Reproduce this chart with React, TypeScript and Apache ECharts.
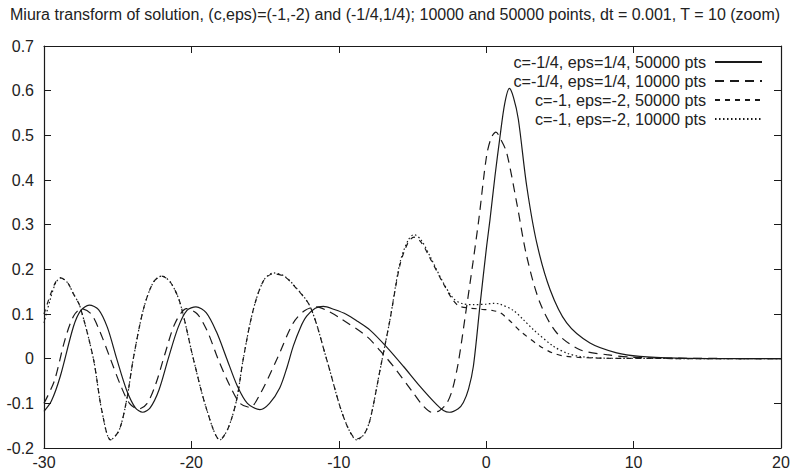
import React, { useEffect, useRef } from "react";
import * as echarts from "echarts";

const FONT = '"Liberation Sans", Arial, Helvetica, sans-serif';

const titleText =
  "Miura transform of solution, (c,eps)=(-1,-2) and (-1/4,1/4); 10000 and 50000 points, dt = 0.001, T = 10 (zoom)";

const seriesNames = [
  "c=-1/4, eps=1/4, 50000 pts",
  "c=-1/4, eps=1/4, 10000 pts",
  "c=-1, eps=-2, 50000 pts",
  "c=-1, eps=-2, 10000 pts",
];

const xTicks = [-30, -20, -10, 0, 10, 20];
const yTicks = [-0.2, -0.1, 0, 0.1, 0.2, 0.3, 0.4, 0.5, 0.6, 0.7];

// c=-1/4, eps=1/4, 50000 pts (solid)
const solid50000: [number, number][] = [
  [-30, -0.118], [-29.5, -0.095], [-28.9, -0.04], [-28.0, 0.072], [-27.5, 0.108],
  [-26.93, 0.12], [-26.3, 0.11], [-25.7, 0.07], [-25.07, 0.0], [-24.4, -0.07],
  [-23.8, -0.11], [-23.3, -0.12], [-22.8, -0.11], [-22.2, -0.07], [-21.57, 0.0],
  [-20.9, 0.07], [-20.3, 0.108], [-19.69, 0.116], [-19.0, 0.103], [-18.3, 0.06],
  [-17.6, 0.0], [-16.9, -0.06], [-16.2, -0.1], [-15.35, -0.114], [-14.7, -0.1],
  [-14.0, -0.065], [-13.5, -0.018], [-13.09, 0.028], [-12.6, 0.07], [-12.18, 0.095],
  [-11.6, 0.113], [-11.05, 0.117], [-10.3, 0.11], [-9.47, 0.099], [-8.7, 0.083],
  [-7.88, 0.064], [-6.75, 0.026], [-5.62, -0.017], [-4.49, -0.062], [-3.36, -0.103],
  [-2.9, -0.116], [-2.5, -0.12], [-1.9, -0.112], [-1.55, -0.098], [-1.2, -0.068],
  [-0.87, -0.017], [-0.42, 0.12], [0.03, 0.252], [0.26, 0.312], [0.6, 0.41],
  [0.94, 0.498], [1.25, 0.57], [1.57, 0.605], [1.85, 0.585], [2.18, 0.536],
  [2.75, 0.386], [3.43, 0.259], [4.33, 0.155], [5.46, 0.08], [7.04, 0.035],
  [8.85, 0.013], [10.43, 0.005], [13, 0.001], [16, 0], [20, 0],
];

// c=-1/4, eps=1/4, 10000 pts (long dash)
const dash10000: [number, number][] = [
  [-30, -0.1], [-29.3, -0.05], [-28.6, 0.04], [-28.0, 0.095], [-27.45, 0.112],
  [-26.8, 0.1], [-26.2, 0.06], [-25.5, 0.0], [-24.8, -0.06], [-24.2, -0.1],
  [-23.6, -0.113], [-23.0, -0.1], [-22.4, -0.055], [-21.8, 0.01], [-21.1, 0.08],
  [-20.32, 0.112], [-19.6, 0.1], [-18.9, 0.06], [-18.2, 0.0], [-17.4, -0.06],
  [-16.7, -0.1], [-16.02, -0.109], [-15.35, -0.08], [-14.21, -0.002], [-13.09, 0.08],
  [-12.3, 0.108], [-11.5, 0.116], [-10.7, 0.106], [-9.92, 0.091], [-8.11, 0.05],
  [-7.2, 0.018], [-6.3, -0.017], [-4.94, -0.077], [-4.3, -0.105], [-3.7, -0.12],
  [-3.2, -0.117], [-2.68, -0.1], [-2.3, -0.07], [-1.9, -0.01], [-1.4, 0.1],
  [-0.9, 0.215], [-0.5, 0.312], [0.03, 0.455], [0.35, 0.495], [0.66, 0.507],
  [1.0, 0.49], [1.39, 0.461], [2.07, 0.349], [2.75, 0.229], [3.65, 0.125],
  [4.78, 0.058], [6.36, 0.02], [8.17, 0.009], [10, 0.003], [13, 0.001], [20, 0],
];

// c=-1, eps=-2, 50000 pts (short dash)
const shortDash50000: [number, number][] = [
  [-30, 0.1], [-29.6, 0.14], [-29.2, 0.172], [-28.87, 0.181], [-28.4, 0.17],
  [-28.0, 0.145], [-27.56, 0.117], [-26.65, 0.0], [-26.09, -0.114], [-25.48, -0.182],
  [-24.9, -0.16], [-24.39, -0.092], [-23.94, 0.0], [-23.26, 0.11], [-22.6, 0.17],
  [-22.02, 0.185], [-21.4, 0.17], [-20.77, 0.125], [-19.87, 0.0], [-18.96, -0.114],
  [-18.06, -0.182], [-17.5, -0.155], [-16.93, -0.092], [-16.48, 0.0], [-15.8, 0.11],
  [-15.1, 0.175], [-14.44, 0.19], [-13.7, 0.184], [-13.09, 0.165], [-11.95, 0.117],
  [-10.82, -0.002], [-9.92, -0.107], [-9.3, -0.16], [-8.79, -0.18], [-8.3, -0.17],
  [-7.88, -0.137], [-7.2, -0.025], [-6.53, 0.087], [-5.85, 0.21], [-5.3, 0.26],
  [-4.9, 0.272], [-4.4, 0.26], [-3.81, 0.225], [-2.91, 0.168], [-2.23, 0.13],
  [-1.78, 0.117], [-0.42, 0.111], [0.4, 0.108], [0.94, 0.103], [1.6, 0.085],
  [2.3, 0.062], [3.65, 0.028], [4.5, 0.013], [5.46, 0.005], [8, 0.001], [20, 0],
];

// c=-1, eps=-2, 10000 pts (dotted)
const dot10000: [number, number][] = [
  [-30, 0.08], [-29.6, 0.13], [-29.2, 0.17], [-28.87, 0.181], [-28.4, 0.17],
  [-28.0, 0.145], [-27.56, 0.117], [-26.65, 0.0], [-26.09, -0.114], [-25.48, -0.182],
  [-24.9, -0.16], [-24.39, -0.092], [-23.94, 0.0], [-23.26, 0.11], [-22.6, 0.17],
  [-22.02, 0.185], [-21.4, 0.17], [-20.77, 0.125], [-19.87, 0.0], [-18.96, -0.114],
  [-18.06, -0.182], [-17.5, -0.155], [-16.93, -0.092], [-16.48, 0.0], [-15.8, 0.11],
  [-15.1, 0.175], [-14.44, 0.192], [-13.7, 0.185], [-13.09, 0.166], [-11.95, 0.117],
  [-10.82, -0.002], [-9.92, -0.107], [-9.3, -0.16], [-8.79, -0.182], [-8.3, -0.17],
  [-7.88, -0.137], [-7.2, -0.025], [-6.53, 0.087], [-5.85, 0.215], [-5.3, 0.265],
  [-4.9, 0.278], [-4.4, 0.265], [-3.81, 0.229], [-2.91, 0.17], [-2.23, 0.135],
  [-1.6, 0.123], [-0.87, 0.121], [0.0, 0.122], [0.48, 0.124], [0.94, 0.122],
  [1.84, 0.108], [2.5, 0.088], [3.2, 0.065], [4.55, 0.028], [5.5, 0.012],
  [6.36, 0.005], [8, 0.001], [20, 0],
];

const seriesData = [solid50000, dash10000, shortDash50000, dot10000];
const dashes: (string | number[])[] = ["solid", [9, 6], [5, 5], [1.5, 2.5]];

export default function App() {
  const ref = useRef<HTMLDivElement>(null);
  useEffect(() => {
    if (!ref.current) return;
    const chart = echarts.init(ref.current, null, { renderer: "svg" });
    const ink = "#1a1a1a";
    const axisBase = {
      type: "value" as const,
      axisLine: { show: true, onZero: false, lineStyle: { color: ink, width: 1.2 } },
      axisTick: { show: true, inside: true, length: 7, lineStyle: { color: ink, width: 1 } },
      splitLine: { show: false },
    };
    chart.setOption({
      animation: false,
      backgroundColor: "#ffffff",
      title: {
        text: titleText,
        left: 10,
        top: 6,
        padding: 0,
        textStyle: { fontFamily: FONT, fontSize: 16, fontWeight: "normal", color: "#222" },
      },
      legend: seriesNames.map((n, i) => ({
        data: [n],
        right: 37,
        top: 54 + i * 19,
        orient: "vertical",
        align: "right",
        itemWidth: 47,
        itemHeight: 10,
        padding: 0,
        selectedMode: false,
        itemStyle: { color: "rgba(0,0,0,0)", borderColor: "rgba(0,0,0,0)", borderWidth: 0 },
        textStyle: { fontFamily: FONT, fontSize: 16.2, color: "#222", padding: [0, 4, 0, 0] },
      })),
      grid: { left: 44, right: 19, top: 46, bottom: 25, containLabel: false },
      xAxis: [
        {
          ...axisBase,
          min: xTicks[0],
          max: xTicks[xTicks.length - 1],
          interval: 10,
          position: "bottom",
          axisLabel: { fontFamily: FONT, fontSize: 16, color: "#222", margin: 6 },
        },
        {
          ...axisBase,
          min: xTicks[0],
          max: xTicks[xTicks.length - 1],
          interval: 10,
          position: "top",
          axisLabel: { show: false },
        },
      ],
      yAxis: [
        {
          ...axisBase,
          min: yTicks[0],
          max: yTicks[yTicks.length - 1],
          interval: 0.1,
          position: "left",
          axisLabel: {
            fontFamily: FONT,
            fontSize: 16,
            color: "#222",
            margin: 10,
            formatter: (v: number) => String(Math.round(v * 10) / 10),
          },
        },
        {
          ...axisBase,
          min: yTicks[0],
          max: yTicks[yTicks.length - 1],
          interval: 0.1,
          position: "right",
          axisLabel: { show: false },
        },
      ],
      series: seriesNames.map((n, i) => ({
        name: n,
        type: "line",
        xAxisIndex: 0,
        yAxisIndex: 0,
        data: seriesData[i],
        symbol: "none",
        smooth: 0.3,
        color: ink,
        lineStyle: { color: ink, width: 1.2, type: dashes[i] },
      })),
    });
    return () => chart.dispose();
  }, []);
  return <div ref={ref} style={{ width: 800, height: 473, position: "absolute", left: 0, top: 0 }} />;
}
